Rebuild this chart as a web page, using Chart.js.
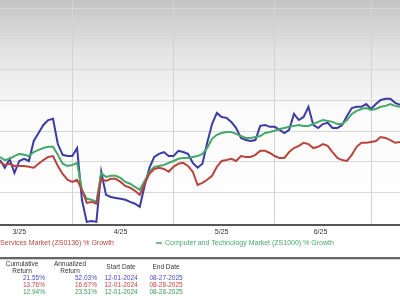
<!DOCTYPE html>
<html><head><meta charset="utf-8">
<script src="https://cdn.jsdelivr.net/npm/chart.js@4"></script>
<style>html,body{margin:0;padding:0;background:#fff;overflow:hidden}#wrap{width:400px;height:300px}</style>
</head><body><div id="wrap"><canvas id="c" width="400" height="300"></canvas></div>
<script>
// ---- data ----
const startDate = '2025-03-11';
const holidays = ['2025-04-18','2025-05-26','2025-06-19','2025-07-04'];
const tickLabels = ['3/25','4/25','5/25','6/25'];
const blueValues = [0.6,-1.9,1.0,-3.6,0.3,1.0,0.3,6.8,9.4,12.0,13.6,14.0,5.8,2.3,1.9,1.9,4.5,-12.3,-19.5,-19.2,-19.5,-3.2,-10.7,-11.4,-11.7,-12.0,-12.3,-13.0,-13.6,-14.6,-7.8,-1.9,1.6,2.6,3.2,1.9,1.9,3.6,3.2,2.6,-0.3,-1.9,-0.6,6.2,12.3,15.9,14.6,14.3,13.0,11.0,7.8,7.1,6.8,7.1,11.7,12.0,11.4,11.4,10.4,9.4,10.4,15.6,13.6,14.6,17.9,12.0,11.0,12.3,12.7,11.0,11.0,12.0,14.9,17.5,17.9,17.9,18.8,17.2,18.8,20.1,20.5,20.5,19.2,18.5];
const redValues = [0,-1.0,-0.6,-1.3,-1.3,-1.3,-1.6,-1.9,-0.6,0.6,1.6,1.9,-1.3,-3.9,-5.8,-6.5,-5.8,-9.1,-13.3,-13.0,-13.6,-5.5,-6.2,-5.5,-5.5,-6.5,-7.8,-8.4,-9.4,-10.7,-7.1,-3.9,-2.3,-1.9,-2.3,-3.2,-1.6,-0.6,-0.3,-1.3,-3.2,-7.5,-6.8,-5.8,-4.5,-1.6,0.3,0.6,1.0,0.3,1.9,1.6,1.6,2.3,3.6,3.6,2.9,1.9,1.3,1.3,3.2,4.5,5.2,6.2,5.8,4.5,4.9,5.8,5.2,3.2,1.3,0.6,0.3,2.3,4.9,6.2,6.2,6.5,6.8,8.1,7.8,7.1,6.2,6.5];
const greenValues = [1.6,0.6,1.0,1.9,2.6,2.3,1.9,3.2,3.9,4.5,4.9,4.9,2.3,-0.6,-1.3,-1.0,-0.3,-9.1,-12.0,-12.3,-13.0,-3.6,-4.9,-4.5,-4.5,-5.2,-6.5,-7.1,-8.1,-9.1,-6.2,-3.2,-1.6,-1.3,-1.0,-0.3,0.3,1.0,1.3,1.3,1.6,1.9,2.6,4.5,7.5,8.8,9.4,9.7,9.7,9.1,8.4,7.8,7.8,8.1,8.4,9.4,9.7,10.1,10.7,11.0,11.4,11.7,12.0,11.7,11.7,12.3,13.0,13.6,13.3,13.0,12.3,12.3,13.6,15.6,16.6,17.2,17.5,16.9,17.2,17.9,18.2,18.8,18.2,17.9];
const legendRed = 'Services Market (ZS0136) % Growth';
const legendGreen = 'Computer and Technology Market (ZS1000) % Growth';
const tableHeaders = [['Cumulative','Return'],['Annualized','Return'],['Start Date'],['End Date']];
const cumulativeReturn = ['21.55%','13.76%','12.94%'];
const annualizedReturn = ['52.03%','16.67%','23.51%'];
const startDates = ['12-01-2024','12-01-2024','12-01-2024'];
const endDates = ['08-27-2025','08-28-2025','08-28-2025'];

// ---- derived ----
const BLUE='#3b3ba3', RED='#b8453d', GREEN='#45a86b';
const TBL=['#4a4ac8','#c84444','#3a9a5a'];
function iso(d){return d.toISOString().slice(0,10);}
function isTrading(d){const w=d.getUTCDay();return w!==0&&w!==6&&!holidays.includes(iso(d));}
const dates=[];
{let d=new Date(startDate+'T00:00:00Z');while(dates.length<blueValues.length){if(isTrading(d))dates.push(iso(d));d=new Date(d.getTime()+86400000);}}
const n=dates.length;
const monthStart=dates.map((s,i)=>i>0&&s.slice(5,7)!==dates[i-1].slice(5,7));
// month start indices (first month extrapolated back to its first trading day)
const starts=[];
{let first=new Date(startDate.slice(0,8)+'01T00:00:00Z'),cnt=0,d=new Date(first);
 while(iso(d)<startDate){if(isTrading(d))cnt++;d=new Date(d.getTime()+86400000);}
 starts.push(-cnt);
 monthStart.forEach((m,i)=>{if(m)starts.push(i);});}
const labelPos=tickLabels.map((t,k)=>(starts[k]+starts[k+1]-1)/2);

const FONT='"Liberation Sans", Arial, sans-serif';
const bg={id:'bg',beforeDraw(c){const g=c.ctx,a=c.chartArea;g.save();g.fillStyle='#fff';g.fillRect(0,0,c.width,c.height);
 const gr=g.createLinearGradient(0,a.top,0,a.bottom);gr.addColorStop(0,'#c4c4c4');gr.addColorStop(0.22,'#e2e2e2');gr.addColorStop(0.5,'#fbfbfb');gr.addColorStop(1,'#ffffff');
 g.fillStyle=gr;g.fillRect(a.left,a.top,a.right-a.left,a.bottom-a.top);g.restore();}};
const extras={id:'extras',afterDraw(c){const g=c.ctx;g.save();
 g.font='7px '+FONT;g.textBaseline='middle';
 g.fillStyle=RED;g.textAlign='left';g.fillText(legendRed,0,243);
 g.strokeStyle=GREEN;g.lineWidth=1.5;g.beginPath();g.moveTo(156,243);g.lineTo(162,243);g.stroke();
 g.fillStyle=GREEN;g.fillText(legendGreen,165,243);
 g.fillStyle='#666';g.fillRect(0,257,400,2);g.fillStyle='#d0d0d0';g.fillRect(0,259,400,1);
 g.font='6.5px '+FONT;g.fillStyle='#333';g.textAlign='center';
 const hx=[22,70,121,166];
 tableHeaders.forEach((h,k)=>{if(h.length===2){g.fillText(h[0],hx[k],264);g.fillText(h[1],hx[k],271);}else g.fillText(h[0],hx[k],267);});
 for(let r=0;r<3;r++){const y=278+r*7;g.fillStyle=TBL[r];
  g.textAlign='right';g.fillText(cumulativeReturn[r],45,y);g.fillText(annualizedReturn[r],97,y);
  g.textAlign='center';g.fillText(startDates[r],121,y);g.fillText(endDates[r],166,y);}
 g.restore();}};

new Chart(document.getElementById('c'),{
 type:'line',
 data:{labels:dates,datasets:[
  {data:redValues,borderColor:RED,borderWidth:2,pointRadius:0,tension:0},
  {data:greenValues,borderColor:GREEN,borderWidth:2,pointRadius:0,tension:0},
  {data:blueValues,borderColor:BLUE,borderWidth:2,pointRadius:0,tension:0}]},
 options:{responsive:false,animation:false,devicePixelRatio:1,
  layout:{padding:0},
  plugins:{legend:{display:false},tooltip:{enabled:false}},
  scales:{
   x:{type:'category',offset:false,ticks:{display:false,autoSkip:false},
      grid:{color:ctx=>monthStart[ctx.index]?'#d2d2d2':'rgba(0,0,0,0)',drawTicks:false,lineWidth:1},
      border:{display:true,color:'#555',width:2},afterFit(s){s.height=0;}},
   xl:{type:'linear',position:'bottom',min:0,max:n-1,grid:{display:false,drawTicks:false},border:{display:false},
      ticks:{font:{size:7,family:FONT},color:'#333',padding:3,autoSkip:false,maxRotation:0,callback:(v,i)=>tickLabels[i]},
      afterBuildTicks(s){s.ticks=labelPos.map(v=>({value:v}));},afterFit(s){s.height=75;}},
   y:{min:-20.5,max:52.6,ticks:{display:false},grid:{color:'#d8d8d8',drawTicks:false},border:{display:false},
      afterBuildTicks(s){s.ticks=[-10,0,10,20,30,40,50].map(v=>({value:v}));},afterFit(s){s.width=0;}}
  }},
 plugins:[bg,extras]
});
</script></body></html>
